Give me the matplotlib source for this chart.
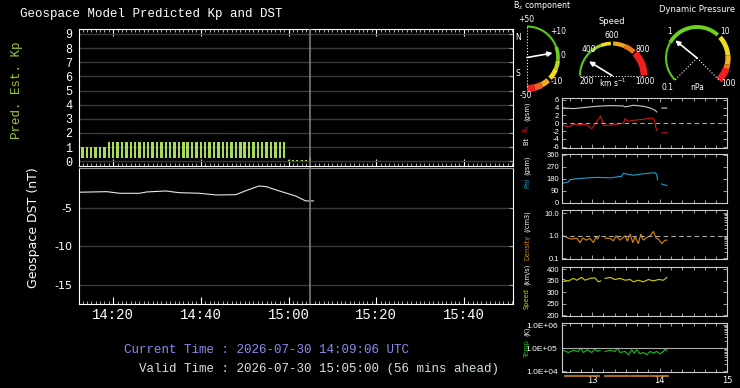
import numpy as np
import matplotlib.pyplot as plt
from matplotlib.ticker import MultipleLocator, FixedLocator, NullFormatter

plt.rcParams['axes.unicode_minus'] = False
MONO = ['Liberation Mono', 'DejaVu Sans Mono']
SANS = ['DejaVu Sans']
THIN = ['Liberation Sans', 'DejaVu Sans']

# ---- main chart, x = minutes after 14:00 UTC ----
kp_min = list(range(13, 60))
kp_val = [1.0, 1.0, 1.0, 1.0, 1.0, 1.0,
          1.33, 1.33, 1.33, 1.33, 1.33, 1.33, 1.33, 1.33, 1.33, 1.33,
          1.33, 1.33, 1.33, 1.33, 1.33, 1.33, 1.33, 1.33, 1.33, 1.33,
          1.33, 1.33, 1.33, 1.33, 1.33, 1.33, 1.33, 1.33, 1.33, 1.33,
          1.33, 1.33, 1.33, 1.33, 1.33, 1.33, 1.33, 1.33, 1.33, 1.33, 1.33]
kp_fc_min = [60, 61, 62, 63, 64, 65]
kp_fc_val = [0.12, 0.12, 0.12, 0.12, 0.12, 0.33]

dst_min = [12.4, 18.5, 21.5, 26.0, 27.6, 32.0, 35.0, 39.7, 43.5, 48.0, 50.3,
           53.3, 54.9, 57.9, 61.6, 63.9, 65.7]
dst_val = [-3.0, -2.93, -3.14, -3.14, -2.97, -2.84, -3.06, -3.14, -3.36, -3.32,
           -2.8, -2.19, -2.28, -2.84, -3.49, -4.13, -4.13]

valid_min = 65
xt_min = [20, 40, 60, 80, 100]
xt_lab = ['14:20', '14:40', '15:00', '15:20', '15:40']
kp_ticks = list(range(10))
dst_ticks = [-5, -10, -15]

# ---- solar wind panels, x = decimal hours UTC ----
bt_t = [12.574, 12.722, 12.920, 13.069, 13.266, 13.463, 13.488, 13.611, 13.759,
        13.858, 13.932, 13.957, np.nan, 14.031, 14.105]
bt_v = [3.93, 3.76, 4.10, 4.36, 4.53, 4.44, 4.19, 4.62, 4.36, 3.93, 3.33, 2.90,
        np.nan, 3.9, 3.9]
bz_t = [12.574, 12.648, 12.722, 12.920, 12.994, 13.093, 13.128, 13.167, 13.266,
        13.413, 13.463, 13.488, 13.537, 13.611, 13.759, 13.883, 13.917, 13.947,
        13.957, np.nan, 14.031, 14.105]
bz_v = [-0.51, -0.94, -0.34, -0.34, -1.37, 1.03, 1.88, -0.51, -0.51, -0.08, 0.09,
        1.2, 0.51, 0.77, 1.03, 1.37, 1.03, -1.37, -1.8, np.nan, -2.5, -2.4]
phi_t = [12.574, 12.648, 12.673, 12.772, 13.069, 13.266, 13.438, 13.463, 13.488,
         13.611, 13.759, 13.858, 13.932, 13.957, 13.967, np.nan, 14.031, 14.105]
phi_v = [148, 156, 173, 181, 191, 187, 199, 223, 218, 207, 218, 223, 226, 212,
         173, np.nan, 140, 129]
den_t = [12.574, 12.624, 12.698, 12.772, 12.821, 12.861, 12.910, 12.969, 13.019,
         13.058, 13.078, 13.107, np.nan, 13.191, 13.266, 13.315, 13.354, 13.413,
         13.488, 13.522, 13.562, 13.601, 13.636, 13.685, 13.720, 13.759, 13.809,
         13.858, 13.907, 13.947, 13.982, 14.031, 14.080, 14.105]
den_v = [1.0, 0.84, 0.71, 0.79, 0.50, 0.79, 0.64, 0.76, 0.50, 0.90, 0.71, 1.0,
         np.nan, 0.79, 0.76, 0.60, 1.0, 0.64, 1.0, 0.58, 1.18, 0.50, 0.90, 0.45,
         1.18, 0.64, 0.84, 1.0, 1.55, 0.79, 0.71, 0.45, 0.64, 0.64]
spd_t = [12.574, 12.648, 12.722, 12.772, 12.846, 12.895, 12.969, 13.043, 13.093,
         13.128, np.nan, 13.191, 13.266, 13.340, 13.413, 13.488, 13.562, 13.611,
         13.685, 13.759, 13.833, 13.907, 13.982, 14.056, 14.105]
spd_v = [355, 348, 360, 352, 364, 352, 360, 362, 345, 349, np.nan, 360, 364, 355,
         360, 352, 355, 345, 352, 345, 355, 349, 355, 352, 364]
tmp_t = [12.574, 12.648, 12.722, 12.796, 12.831, 12.870, 12.930, 12.994, 13.043,
         13.078, 13.117, np.nan, 13.191, 13.266, 13.340, 13.374, 13.413, 13.488,
         13.537, 13.587, 13.621, 13.661, 13.710, 13.759, 13.809, 13.858, 13.907,
         13.957, 14.006, 14.056, 14.080, 14.105]
tmp_v = [7.9e4, 6.4e4, 7.9e4, 7.1e4, 1.0e5, 6.4e4, 8.4e4, 6.4e4, 9.0e4, 7.1e4,
         7.9e4, np.nan, 7.1e4, 7.9e4, 7.1e4, 1.0e5, 6.4e4, 7.1e4, 5.1e4, 8.4e4,
         6.0e4, 8.4e4, 5.6e4, 6.4e4, 5.1e4, 7.1e4, 6.0e4, 7.1e4, 5.6e4, 7.1e4,
         9.0e4, 7.9e4]
avail = [(12.60, 13.10), (13.19, 13.55), (13.58, 13.82), (13.85, 14.12)]
hr_ticks = [13, 14, 15]

# gauge readings
bz_now = 2.2
speed_now = 340
pdyn_now = 0.86

KPC = '#a6dc5a'
W, H = 740, 388
fig = plt.figure(figsize=(W / 100, H / 100), dpi=100, facecolor='black')


def box(l, t, r, b):
    return [l / W, 1 - b / H, (r - l) / W, (b - t) / H]


# ---------------- Kp panel ----------------
axk = fig.add_axes(box(79, 29, 512.5, 165.5), facecolor='black')
axk.bar(kp_min, np.subtract(kp_val, 0.2), bottom=0.2, width=0.55, color=KPC)
axk.bar(kp_fc_min, kp_fc_val, width=0.45, color=KPC)
axk.set_ylim(-0.3, 9.35)
axk.set_yticks(kp_ticks)
axk.set_yticklabels([str(k) for k in kp_ticks], family=MONO, fontsize=8.5)

# ---------------- DST panel ----------------
axd = fig.add_axes(box(79, 168.3, 512.5, 304), facecolor='black')
axd.plot(dst_min, dst_val, color='#e8e8e8', lw=0.8)
axd.set_ylim(-17.5, 0.1)
axd.set_yticks(dst_ticks)
axd.set_yticklabels([str(d) for d in dst_ticks], family=SANS, fontsize=8)

for ax in (axk, axd):
    ax.set_xlim(12.2, 111.1)
    ax.xaxis.set_major_locator(FixedLocator(xt_min))
    ax.xaxis.set_minor_locator(MultipleLocator(1))
    ax.grid(axis='y', color='#3a3a3a', lw=1)
    ax.set_axisbelow(True)
    for s in ax.spines.values():
        s.set_color('white')
    ax.tick_params(axis='y', direction='in', left=False, right=True, length=3,
                   color='#999999', labelcolor='white', pad=5)
    ax.axvline(valid_min, color='#6f827a', lw=1.2, zorder=4)

axk.axvline(valid_min, ymin=-0.03, ymax=0, color='#6f827a', lw=1.2, clip_on=False)
axk.tick_params(axis='x', which='major', direction='in', top=True, bottom=True,
                length=5, color='white', labelbottom=False)
axk.tick_params(axis='x', which='minor', direction='in', top=True, bottom=True,
                length=2.5, color='#cccccc')
axd.spines['top'].set_color('#999999')
axd.tick_params(axis='x', which='major', direction='in', top=False, length=5,
                color='white', labelcolor='white', pad=3)
axd.tick_params(axis='x', which='minor', direction='in', top=False, length=2.5,
                color='#cccccc')
axd.set_xticklabels(xt_lab, family=MONO, fontsize=10)

fig.text(20 / W, 1 - 14 / H, 'Geospace Model Predicted Kp and DST', color='white',
         family=MONO, fontsize=9, va='center')
fig.text(17 / W, 1 - 90 / H, 'Pred. Est. Kp', color='#9acd32', family=MONO,
         fontsize=9, rotation=90, ha='center', va='center')
fig.text(33 / W, 1 - 228 / H, 'Geospace DST (nT)', color='white', family=SANS,
         fontsize=9, rotation=90, ha='center', va='center')
fig.text(124 / W, 1 - 350 / H, 'Current Time : 2026-07-30 14:09:06 UTC',
         color='#8c8cf0', family=MONO, fontsize=9, va='center')
fig.text(139 / W, 1 - 369 / H, 'Valid Time : 2026-07-30 15:05:00 (56 mins ahead)',
         color='#d2e6da', family=MONO, fontsize=9, va='center')

# ---------------- solar wind panels ----------------
rows = [(98.3, 148.3), (154.3, 203.3), (210, 259.3), (266.7, 315.7), (322.7, 372.3)]
panels = [fig.add_axes(box(561.7, t, 727.3, b), facecolor='black') for t, b in rows]
p1, p2, p3, p4, p5 = panels

p1.plot(bt_t, bt_v, color='#cccccc', lw=0.8)
p1.plot(bz_t, bz_v, color='#d01414', lw=0.8)
p1.axhline(0, color='#aaaaaa', lw=0.8, ls=(0, (4, 3)))
p1.set_ylim(-6.4, 6.4)
p1.set_yticks([-6, -4, -2, 0, 2, 4, 6])

p2.plot(phi_t, phi_v, color='#1ea0c8', lw=0.8)
p2.set_ylim(-5, 365)
p2.set_yticks([0, 90, 180, 270, 360])

p3.plot(den_t, den_v, color='#e08a00', lw=0.8)
p3.axhline(1.0, color='#aaaaaa', lw=0.8, ls=(0, (4, 3)))
p3.set_yscale('log')
p3.set_ylim(0.09, 14)
p3.set_yticks([0.1, 1.0, 10.0])
p3.set_yticklabels(['0.1', '1.0', '10.0'])

p4.plot(spd_t, spd_v, color='#d2d200', lw=0.8)
p4.set_ylim(197, 411)
p4.set_yticks([200, 250, 300, 350, 400])

p5.plot(tmp_t, tmp_v, color='#18c018', lw=0.8)
p5.axhline(1e5, color='#aaaaaa', lw=0.8)
p5.set_yscale('log')
p5.set_ylim(8.8e3, 1.26e6)
p5.set_yticks([1e4, 1e5, 1e6])

for ax in panels:
    ax.set_xlim(12.55, 15.0)
    ax.xaxis.set_major_locator(FixedLocator(hr_ticks))
    ax.xaxis.set_minor_locator(MultipleLocator(1 / 6))
    for s in ax.spines.values():
        s.set_color('#cccccc')
        s.set_linewidth(0.8)
    ax.tick_params(which='both', direction='in', top=True, right=True,
                   color='#bbbbbb', labelcolor='white', labelsize=5.5, length=3,
                   width=0.6, pad=2, labelbottom=False)
    ax.tick_params(which='minor', left=False, length=2.5)
    ax.yaxis.set_minor_formatter(NullFormatter())
    for t in ax.get_yticklabels():
        t.set_family(THIN)
p5.set_yticklabels(['1.0E+04', '1.0E+05', '1.0E+06'], fontsize=3.6, family=THIN)
p5.tick_params(labelbottom=True, labelsize=6, pad=3)
for a0, a1 in avail:
    p5.plot([a0, a1], [-0.07, -0.07], color='#d08020', lw=1.2,
            transform=p5.get_xaxis_transform(), clip_on=False)

# coloured y labels, stacked from the bottom of each panel
ylabs = [
    [('Bt ', 'white'), (r'B$_\mathregular{z}$', '#d01414'), ('(gsm)', 'white')],
    [('Phi', '#1ea0c8'), ('(gsm)', 'white')],
    [('Density', '#e08a00'), ('(/cm3)', 'white')],
    [('Speed', '#d2d200'), ('(km/s)', 'white')],
    [('Temp', '#18c018'), ('(K)', 'white')],
]
lab_bottom = [145, 188, 260, 309, 357]
fig.canvas.draw()
rend = fig.canvas.get_renderer()
for parts, yb in zip(ylabs, lab_bottom):
    y = yb
    for s, c in parts:
        t = fig.text(527 / W, 1 - y / H, s, color=c, fontsize=4.8, rotation=90,
                     ha='center', va='bottom', family=SANS)
        bb = t.get_window_extent(rend)
        y -= bb.height + 3

# ---------------- gauges (overlay in pixel coordinates) ----------------
axo = fig.add_axes([0, 0, 1, 1], zorder=10)
axo.set_xlim(0, W)
axo.set_ylim(H, 0)
axo.axis('off')


def arc(cx, cy, r, a0, a1, color, lw):
    t = np.radians(np.linspace(a0, a1, 30))
    axo.plot(cx + r * np.cos(t), cy - r * np.sin(t), color=color, lw=lw,
             solid_capstyle='butt')


def needle(cx, cy, r, ang):
    a = np.radians(ang)
    axo.annotate('', xy=(cx + r * np.cos(a), cy - r * np.sin(a)), xytext=(cx, cy),
                 arrowprops=dict(arrowstyle='-|>', color='white', lw=1.2,
                                 mutation_scale=7, shrinkA=0, shrinkB=0))


def label(x, y, s, size=5.5):
    axo.text(x, y, s, color='white', fontsize=size, ha='center', va='center',
             family=SANS)


def bz_angle(b):
    if abs(b) <= 10:
        return 4.5 * b
    return np.sign(b) * (45 + (abs(b) - 10) / 40 * 45)


# Bz gauge
cx, cy, r = 527, 57.5, 31
for a0, a1, c, lw in [(90, 20, '#58c81e', 1.5), (20, -6, '#6ad21e', 2.6),
                      (-6, -22, '#b8d81e', 3.0), (-22, -42, '#f0dc1e', 3.4),
                      (-47, -62, '#f0a81e', 4.0), (-62, -76, '#f0601e', 4.6),
                      (-76, -90, '#f01e1e', 5.2)]:
    arc(cx, cy, r, a0, a1, c, lw)
axo.plot([cx, cx], [cy - r, cy + r], ':', color='white', lw=0.8)
needle(cx, cy, 26, bz_angle(bz_now))
label(542, 5, r'B$_\mathregular{z}$ component', 5.8)
label(526, 20, '+50')
label(526, 95, '-50')
label(558, 31, '+10')
label(563, 55, '0')
label(557, 82, '-10')
label(518, 37, 'N')
label(518, 73, 'S')

# Speed gauge
cx, cy, r = 612, 75.5, 32
for a0, a1, c, lw in [(180, 130, '#58c81e', 1.5), (130, 110, '#a0d21e', 2.2),
                      (110, 92, '#f0dc1e', 2.6), (88, 66, '#f0a81e', 3.0),
                      (66, 47, '#f07814', 3.5), (44, 0, '#f01e1e', 5.0)]:
    arc(cx, cy, r, a0, a1, c, lw)
axo.plot([cx - r, cx + r], [cy, cy], ':', color='white', lw=0.8)
needle(cx, cy, 27, 180 - (speed_now - 200) / 800 * 180)
label(612, 22, 'Speed', 6)
label(612, 35, '600')
label(589, 50, '400')
label(643, 50, '800')
label(587, 82, '200')
label(645, 82, '1000')
label(613, 83, r'km s$^{-1}$')

# Dynamic pressure gauge
cx, cy, r = 697, 58, 31
for a0, a1, c, lw in [(225, 150, '#58c81e', 1.5), (150, 48, '#6ed21e', 2.8),
                      (42, 5, '#f0dc1e', 3.4), (5, -12, '#f0b41e', 3.8),
                      (-12, -20, '#f07814', 4.2), (-20, -45, '#f01e1e', 5.0)]:
    arc(cx, cy, r, a0, a1, c, lw)
for a in (225, -45):
    axo.plot([cx, cx + r * np.cos(np.radians(a))], [cy, cy - r * np.sin(np.radians(a))],
             ':', color='white', lw=0.8)
needle(cx, cy, 28, 225 - (np.log10(pdyn_now) + 1) * 90)
label(697, 10, 'Dynamic Pressure', 6)
label(670, 31, '1')
label(725, 32, '10')
label(667, 87, '0.1')
label(697, 87, 'nPa')
label(728, 83, '100')

fig.savefig('out.png', dpi=100, facecolor='black')
